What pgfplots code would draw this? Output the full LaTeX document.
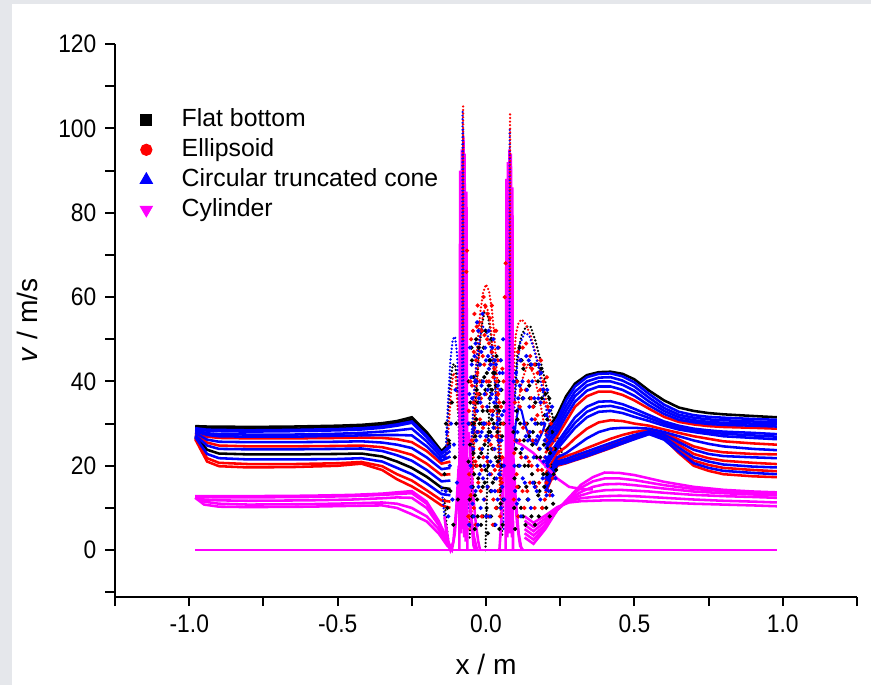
\documentclass[border=0pt]{standalone}
\usepackage{pgfplots}
\pgfplotsset{compat=1.18}
\usepackage{pgfplotstable}
\usepackage{fontspec}
\setmainfont{Liberation Sans}
\newfontfamily\tickfont[FakeStretch=0.9]{Liberation Sans}
\definecolor{framegray}{RGB}{229,231,235}
\definecolor{mag}{RGB}{255,0,255}
\definecolor{rd}{RGB}{255,0,0}
\definecolor{bu}{RGB}{0,0,255}

% left smooth region (x<-0.12): Flat bottom / Ellipsoid / Cone curves
\pgfplotstableread{
x L1 L2 L3 L4 L5 L6 L7 L8 L9 L10 L11 L12 C1 C2
-0.98 29.4 29.0 28.8 28.5 28.0 27.8 27.5 27.2 27.0 26.8 26.6 26.3 28.9 28.2
-0.94 29.3 28.8 28.3 27.7 26.9 26.2 25.5 24.8 23.8 22.8 21.8 21.0 28.55 27.3
-0.90 29.3 28.8 28.2 27.5 26.6 25.7 24.8 24.0 22.9 21.8 20.7 19.9 28.5 27.0
-0.80 29.2 28.7 28.1 27.4 26.5 25.6 24.6 23.9 22.7 21.5 20.4 19.6 28.4 26.9
-0.65 29.3 28.8 28.2 27.4 26.5 25.6 24.6 23.9 22.7 21.5 20.4 19.7 28.5 26.9
-0.50 29.5 29.0 28.4 27.6 26.6 25.7 24.7 24.0 22.8 21.6 20.6 20.0 28.7 27.1
-0.42 29.7 29.2 28.6 27.8 26.7 25.8 24.8 24.1 22.9 21.8 20.9 20.5 28.9 27.2
-0.35 30.1 29.6 29.0 28.1 26.6 25.5 24.4 23.5 22.2 21.0 19.9 19.0 29.3 27.3
-0.30 30.6 30.1 29.5 28.4 26.3 25.0 23.6 22.5 21.0 19.5 18.0 16.8 29.8 27.3
-0.25 31.5 30.9 30.2 28.8 25.6 24.2 22.6 21.2 19.5 18.0 16.5 15.1 30.5 27.2
-0.20 28.0 27.5 26.8 25.8 23.5 22.0 20.5 19.0 17.4 15.8 14.2 13.0 27.1 24.6
-0.15 23.5 23.2 22.8 22.0 20.5 19.2 17.8 16.3 14.8 13.3 11.8 10.6 23.0 21.2
-0.12 25.5 25.0 24.5 23.5 21.0 19.5 18.0 16.5 14.5 13.0 11.5 10.0 24.8 22.2
}\lefttab

% right smooth region (x>0.2)
\pgfplotstableread{
x R1 R2 R3 R4 R5 R6 R7 R8 R9 R10 R11 R12 R13 R14 R15 B1 B2 B3
0.20 28.0 27.0 25.0 23.0 21.0 19.5 18.0 17.0 16.5 16.0 15.5 15.0 14.5 14.0 13.5 26.0 24.0 20.2
0.24 32.0 31.0 29.0 27.0 25.5 24.0 23.0 22.0 21.5 21.0 20.8 20.6 20.4 20.3 20.0 30.0 28.0 24.8
0.27 36.5 35.5 33.0 30.5 28.5 26.5 24.5 23.0 22.3 21.6 21.2 21.0 20.8 20.7 20.6 34.2 31.8 27.5
0.30 39.5 38.8 36.5 34.0 31.5 29.0 26.5 24.5 23.0 22.4 22.0 21.7 21.5 21.4 21.3 37.6 35.2 30.2
0.34 41.5 41.0 39.0 36.5 34.0 31.5 28.8 26.5 24.2 23.4 23.0 22.7 22.5 22.3 22.2 40.0 37.8 32.8
0.38 42.2 41.8 40.0 37.6 35.2 32.8 30.3 28.0 25.3 24.4 24.0 23.7 23.5 23.3 23.2 40.9 38.8 34.0
0.42 42.3 41.9 40.0 37.6 35.3 33.0 30.8 28.8 26.4 25.4 25.0 24.7 24.5 24.3 24.2 41.0 38.8 34.2
0.46 41.8 41.2 39.2 36.8 34.6 32.5 30.6 29.0 27.3 26.4 26.0 25.7 25.5 25.3 25.3 40.2 38.0 33.6
0.50 40.5 39.8 37.8 35.5 33.5 31.6 30.0 29.0 28.0 27.3 27.0 26.7 26.5 26.3 26.4 38.8 36.6 32.6
0.55 37.8 37.0 35.2 33.5 32.0 30.6 29.5 28.8 28.5 28.2 28.0 27.8 27.6 27.5 27.8 36.1 34.3 31.3
0.60 35.5 34.5 33.0 31.6 30.5 29.5 28.6 28.0 27.8 27.4 27.2 26.8 26.5 26.2 26.5 33.7 32.3 30.0
0.65 33.8 32.8 31.5 30.4 29.5 28.6 27.8 27.0 26.2 25.6 25.0 24.3 23.8 23.3 23.0 32.1 30.9 29.0
0.70 33.0 32.0 30.8 29.8 28.8 28.0 27.0 26.0 24.6 23.8 22.8 22.0 21.2 20.6 20.0 31.4 30.3 28.4
0.75 32.5 31.6 30.4 29.4 28.4 27.5 26.4 25.2 23.7 22.8 21.8 21.0 20.2 19.5 18.8 31.0 29.9 27.9
0.80 32.2 31.4 30.2 29.2 28.1 27.0 25.8 24.6 23.2 22.3 21.2 20.3 19.5 18.8 18.0 30.8 29.7 27.6
0.90 31.8 31.1 30.0 29.0 27.8 26.6 25.3 24.0 22.8 22.0 20.7 19.8 19.0 18.3 17.5 30.5 29.5 27.2
0.98 31.5 30.9 29.8 28.8 27.5 26.3 25.0 23.7 22.7 21.8 20.4 19.6 18.7 18.0 17.3 30.3 29.3 26.9
}\righttab

% Cylinder, left
\pgfplotstableread{
x M1 M2 M3 M4 M5
-0.98 12.8 12.7 12.6 12.5 12.4
-0.95 12.8 12.6 12.0 11.5 10.8
-0.90 12.8 12.5 11.8 11.0 10.3
-0.80 12.8 12.5 11.7 10.8 10.2
-0.60 12.9 12.6 11.8 10.9 10.3
-0.45 13.1 12.8 12.0 11.1 10.5
-0.35 13.4 13.1 12.3 11.3 10.6
-0.30 13.7 13.3 12.5 11.0 10.0
-0.25 14.0 13.5 12.4 10.0 8.5
-0.20 11.5 11.0 10.0 8.0 6.8
-0.16 7.0 6.5 6.0 5.0 4.0
-0.13 2.5 2.0 1.8 1.5 1.0
-0.115 0 0 0 0 0
}\mleft

% Cylinder, right
\pgfplotstableread{
x N1 N2 N3 N4 N5 N6
0.13 3.0 4.0 5.0 6.0 7.0 8.0
0.16 1.5 2.5 3.5 4.5 5.5 6.5
0.20 5.0 5.5 6.0 6.8 7.5 8.2
0.24 9.5 9.5 9.5 9.8 10.0 10.2
0.28 12.5 12.3 12.0 11.8 11.6 11.3
0.32 15.5 14.8 13.8 13.0 12.3 11.6
0.36 17.3 16.3 15.0 13.8 12.6 11.7
0.40 18.4 17.0 15.6 14.2 12.8 11.8
0.45 18.3 17.0 15.7 14.3 12.9 11.8
0.50 17.8 16.6 15.4 14.1 12.8 11.7
0.55 17.0 16.0 15.0 13.9 12.6 11.5
0.60 16.2 15.4 14.6 13.6 12.4 11.3
0.70 15.0 14.5 13.9 13.1 12.0 11.0
0.80 14.3 14.0 13.5 12.8 11.7 10.8
0.90 13.9 13.6 13.2 12.6 11.5 10.6
0.98 13.7 13.4 13.0 12.4 11.3 10.4
}\mright

\pgfplotsset{
  bk/.style={black, line width=1.0pt, forget plot},
  rdl/.style={rd, line width=1.0pt, forget plot},
  bl/.style={bu, line width=1.0pt, forget plot},
  mg/.style={mag, line width=1.0pt, forget plot},
  dots/.style={line width=1.0pt, line cap=round, dash pattern=on 0pt off 1.4pt, forget plot},
  sc/.style={only marks, mark=*, mark size=0.6pt, forget plot},
}

\begin{document}
\begin{tikzpicture}
\fill[framegray] (-45pt,-34.4pt) rectangle (295.5pt,233.2pt);
\fill[white] (-40.3pt,-34.4pt) rectangle (295.5pt,231.6pt);
\begin{axis}[
  scale only axis, width=290pt, height=216pt,
  at={(0,0)}, anchor=south west,
  xmin=-1.25, xmax=1.25, ymin=-11, ymax=120,
  axis lines*=left,
  axis line style={line width=0.8pt},
  xtick={-1,-0.5,0,0.5,1},
  xticklabels={-1.0,-0.5,0.0,0.5,1.0},
  minor xtick={-1.25,-0.75,-0.25,0.25,0.75,1.25},
  ytick={0,20,40,60,80,100,120},
  yticklabels={0,20,40,60,80,100,120},
  minor ytick={-10,10,30,50,70,90,110},
  tick align=outside,
  major tick length=3.8pt, minor tick length=3.8pt,
  every tick/.style={line width=0.8pt, black},
  tick label style={font=\tickfont\fontsize{9.9}{11}\selectfont},
  xlabel={x / m},
  ylabel={\textit{v} / m/s},
  label style={font=\fontsize{11}{13}\selectfont},
  xlabel style={at={(axis description cs:0.5,-0.123)}, anchor=center},
  ylabel style={at={(axis description cs:-0.118,0.5)}, anchor=center, rotate=0},
  legend cell align=left,
  legend style={at={(axis description cs:0.023,0.902)}, anchor=north west,
    draw=none, fill=none, font=\fontsize{9.7}{11}\selectfont, row sep=-0.8pt,
    /tikz/every odd column/.append style={column sep=9.5pt}},
]
\addlegendimage{only marks, mark=square*, mark size=2.1pt, black}
\addlegendentry{Flat bottom}
\addlegendimage{only marks, mark=*, mark size=2.2pt, rd}
\addlegendentry{Ellipsoid}
\addlegendimage{only marks, mark=triangle*, mark size=2.7pt, bu}
\addlegendentry{Circular truncated cone}
\addlegendimage{only marks, mark=triangle*, mark size=2.7pt, mag, mark options={rotate=180}}
\addlegendentry{Cylinder}

% ---------- Flat bottom (black) ----------
\addplot[bk] table[x=x,y=L1] {\lefttab};
\addplot[bk] table[x=x,y=L2] {\lefttab};
\addplot[bk] table[x=x,y=L9] {\lefttab};
\addplot[bk] table[x=x,y=R1] {\righttab};
\addplot[black,dots] coordinates {(-0.135,23)(-0.128,32)(-0.12,40)(-0.112,44)(-0.104,44)(-0.097,40)(-0.092,30)(-0.088,18)};
\addplot[black,dots] coordinates {(-0.14,12)(-0.133,6)(-0.127,2)(-0.122,0)};
\addplot[black,dots] coordinates {(-0.055,3)(-0.045,22)(-0.035,36)(-0.025,46)(-0.015,53)(-0.005,56.5)(0.005,56)(0.015,52)(0.025,45)(0.035,35)(0.045,20)(0.055,3)};
\addplot[black,dots] coordinates {(-0.002,0)(0.002,10)(0.006,22)(0.01,32)(0.016,40)};
\addplot[black,dots] coordinates {(0.095,35)(0.105,46)(0.12,51)(0.135,53)(0.15,53)(0.165,50)(0.18,46)(0.2,40)(0.22,33)(0.24,27)(0.26,22)};
\addplot[black,sc] coordinates {(-0.055,12)(-0.05,30)(-0.046,8)(-0.043,41)(-0.04,18)(-0.036,27)(-0.033,50)(-0.03,12)(-0.027,35)(-0.024,22)(-0.02,44)(-0.017,6)(-0.014,30)(-0.011,15)(-0.008,48)(-0.005,25)(-0.002,38)(0.002,10)(0.005,33)(0.008,20)(0.011,45)(0.014,28)(0.017,8)(0.02,38)(0.023,16)(0.026,30)(0.03,42)(0.033,22)(0.036,10)(0.04,34)(0.043,26)(0.047,14)(0.05,30)(0.054,20)(0.058,12)};
\addplot[black,sc] coordinates {(-0.058,40)(-0.054,25)(-0.049,48)(-0.045,15)(-0.041,30)(-0.038,5)(-0.034,20)(-0.031,38)(-0.028,8)(-0.025,48)(-0.022,30)(-0.019,20)(-0.016,40)(-0.013,52)(-0.01,8)(-0.007,30)(-0.004,16)(-0.001,52)(0.003,42)(0.006,4)(0.009,28)(0.012,36)(0.015,14)(0.018,50)(0.021,24)(0.024,42)(0.028,6)(0.031,34)(0.035,46)(0.038,28)(0.042,40)(0.045,5)(0.048,22)(0.052,38)(0.056,6)(0.06,30)};
\addplot[black,sc] coordinates {(-0.059,21)(-0.053,35)(-0.047,45)(-0.042,23)(-0.037,13)(-0.032,31)(-0.026,17)(-0.021,37)(-0.016,23)(-0.011,33)(-0.006,41)(-0.001,19)(0.004,27)(0.009,39)(0.014,45)(0.019,31)(0.024,33)(0.029,17)(0.034,39)(0.039,21)(0.044,33)(0.049,11)(0.054,27)(0.059,35)};
\addplot[black,sc] coordinates {(0.095,10)(0.1,24)(0.105,40)(0.11,15)(0.115,30)(0.12,45)(0.125,8)(0.13,20)(0.135,38)(0.14,12)(0.145,27)(0.15,44)(0.155,18)(0.16,34)(0.165,6)(0.17,22)(0.175,40)(0.18,14)(0.185,30)(0.19,10)(0.195,25)(0.2,37)(0.205,18)(0.21,28)(0.215,8)(0.22,20)};
\addplot[black,sc] coordinates {(0.092,28)(0.098,5)(0.103,33)(0.108,20)(0.113,48)(0.118,10)(0.123,36)(0.128,26)(0.133,6)(0.138,30)(0.143,20)(0.148,36)(0.153,8)(0.158,28)(0.163,16)(0.168,44)(0.173,30)(0.178,8)(0.183,22)(0.188,36)(0.193,18)(0.198,32)(0.203,10)(0.208,24)(0.213,36)(0.218,14)(0.223,28)(0.228,18)(0.233,24)};
\addplot[black,sc] coordinates {(0.096,17)(0.106,31)(0.116,23)(0.126,43)(0.136,15)(0.146,39)(0.156,25)(0.166,35)(0.176,13)(0.186,43)(0.196,15)(0.206,31)(0.216,23)(0.226,11)(0.236,19)};
\addplot[black,sc] coordinates {(-0.14,18)(-0.135,30)(-0.13,10)(-0.125,26)(-0.12,14)(-0.115,35)(-0.11,6)(-0.105,22)(-0.1,30)(-0.095,12)};

% ---------- Ellipsoid (red) ----------
\addplot[rdl] table[x=x,y=L5] {\lefttab};
\addplot[rdl] table[x=x,y=L7] {\lefttab};
\addplot[rdl] table[x=x,y=L11] {\lefttab};
\addplot[rdl] table[x=x,y=L12] {\lefttab};
\addplot[rdl] table[x=x,y=R4] {\righttab};
\addplot[rdl] table[x=x,y=R7] {\righttab};
\addplot[rdl] table[x=x,y=R9] {\righttab};
\addplot[rdl] table[x=x,y=R11] {\righttab};
\addplot[rdl] table[x=x,y=R13] {\righttab};
\addplot[rdl] table[x=x,y=R15] {\righttab};
\addplot[rd,dots] coordinates {(-0.133,22)(-0.125,30)(-0.117,38)(-0.11,42)(-0.102,41)(-0.095,33)};
\addplot[rd,dots] coordinates {(-0.058,5)(-0.05,20)(-0.04,36)(-0.03,48)(-0.02,56)(-0.01,61)(0,63)(0.01,61.5)(0.02,57)(0.03,49)(0.04,38)(0.05,24)(0.058,8)};
\addplot[rd,dots] coordinates {(-0.05,5)(-0.04,25)(-0.03,40)(-0.02,50)(-0.01,56)(0,58)(0.01,56)(0.02,50)(0.03,40)(0.04,27)(0.05,8)};
\addplot[rd,dots] coordinates {(0.09,30)(0.095,45)(0.1,51)(0.11,54)(0.12,54.7)(0.13,54)(0.15,51)(0.17,46)(0.19,40)(0.21,33)(0.23,27)(0.25,22)};
\addplot[rd,dots] coordinates {(0.1,30)(0.12,40)(0.14,44)(0.16,42)(0.18,36)(0.2,28)(0.22,22)};
\addplot[rd,sc] coordinates {(-0.057,18)(-0.052,40)(-0.048,26)(-0.044,52)(-0.041,10)(-0.037,33)(-0.034,45)(-0.031,20)(-0.028,58)(-0.025,28)(-0.021,40)(-0.018,14)(-0.015,52)(-0.012,34)(-0.009,22)(-0.006,44)(-0.003,58)(0.001,30)(0.004,50)(0.007,15)(0.01,40)(0.013,55)(0.016,25)(0.019,47)(0.022,33)(0.025,12)(0.028,43)(0.031,29)(0.034,52)(0.038,20)(0.041,37)(0.045,26)(0.049,45)(0.053,16)(0.057,30)(-0.066,66)(-0.064,71)(0.066,68)(0.063,60)};
\addplot[rd,sc] coordinates {(-0.06,8)(-0.055,30)(-0.05,50)(-0.046,20)(-0.042,35)(-0.039,56)(-0.035,6)(-0.032,28)(-0.029,42)(-0.026,16)(-0.023,54)(-0.02,24)(-0.017,36)(-0.014,8)(-0.011,46)(-0.008,60)(-0.005,12)(-0.002,26)(0.002,40)(0.005,56)(0.008,8)(0.011,30)(0.014,44)(0.017,18)(0.02,58)(0.023,6)(0.027,24)(0.03,52)(0.033,10)(0.036,40)(0.04,14)(0.043,48)(0.047,8)(0.051,34)(0.055,22)(0.059,40)};
\addplot[rd,sc] coordinates {(-0.058,33)(-0.052,13)(-0.047,39)(-0.041,47)(-0.036,21)(-0.031,53)(-0.026,37)(-0.02,31)(-0.015,19)(-0.01,29)(-0.005,51)(0,37)(0.005,21)(0.01,49)(0.015,33)(0.02,27)(0.025,41)(0.03,19)(0.035,27)(0.04,45)(0.045,35)(0.05,17)(0.055,43)};
\addplot[rd,sc] coordinates {(0.097,35)(0.103,18)(0.108,47)(0.113,26)(0.118,38)(0.123,14)(0.128,44)(0.133,30)(0.138,22)(0.143,40)(0.148,16)(0.153,36)(0.158,26)(0.163,44)(0.168,15)(0.173,32)(0.178,24)(0.183,38)(0.188,19)(0.193,30)(0.198,12)(0.203,26)(0.208,34)};
\addplot[rd,sc] coordinates {(0.094,12)(0.099,26)(0.104,40)(0.109,8)(0.114,34)(0.119,22)(0.124,48)(0.129,10)(0.134,38)(0.139,14)(0.144,28)(0.149,46)(0.154,20)(0.159,34)(0.164,10)(0.169,26)(0.174,42)(0.179,16)(0.184,28)(0.189,10)(0.194,40)(0.199,22)(0.204,16)(0.209,28)(0.214,20)(0.219,30)(0.225,24)};
\addplot[rd,sc] coordinates {(0.095,23)(0.105,15)(0.115,45)(0.125,29)(0.135,49)(0.145,21)(0.155,43)(0.165,31)(0.175,19)(0.185,45)(0.195,35)(0.205,41)(0.215,13)(0.225,17)};

% ---------- Circular truncated cone (blue) ----------
\addplot[bl] table[x=x,y=L3] {\lefttab};
\addplot[bl] table[x=x,y=C1] {\lefttab};
\addplot[bl] table[x=x,y=L4] {\lefttab};
\addplot[bl] table[x=x,y=C2] {\lefttab};
\addplot[bl] table[x=x,y=L6] {\lefttab};
\addplot[bl] table[x=x,y=L8] {\lefttab};
\addplot[bl] table[x=x,y=L10] {\lefttab};
\addplot[bl] table[x=x,y=R2] {\righttab};
\addplot[bl] table[x=x,y=B1] {\righttab};
\addplot[bl] table[x=x,y=R3] {\righttab};
\addplot[bl] table[x=x,y=B2] {\righttab};
\addplot[bl] table[x=x,y=R5] {\righttab};
\addplot[bl] table[x=x,y=B3] {\righttab};
\addplot[bl] table[x=x,y=R6] {\righttab};
\addplot[bl] table[x=x,y=R8] {\righttab};
\addplot[bl] table[x=x,y=R10] {\righttab};
\addplot[bl] table[x=x,y=R12] {\righttab};
\addplot[bl] table[x=x,y=R14] {\righttab};
\addplot[bu,dots] coordinates {(-0.135,24)(-0.128,35)(-0.12,45)(-0.112,50)(-0.104,50.6)(-0.097,46)(-0.092,35)(-0.088,20)};
\addplot[bu,dots] coordinates {(-0.15,15)(-0.14,8)(-0.13,2)(-0.12,0)};
\addplot[bu,dots] coordinates {(-0.06,10)(-0.05,25)(-0.04,38)(-0.03,46)(-0.02,51)(-0.01,53)(0,52)(0.01,50)(0.02,46)(0.03,40)(0.04,30)(0.05,18)(0.06,5)};
\addplot[bu,dots] coordinates {(0.095,33)(0.105,44)(0.115,49)(0.13,51.5)(0.145,51)(0.16,48)(0.175,44)(0.19,38)(0.21,31)(0.23,25)};
\addplot[bu,line width=0.8pt,forget plot] coordinates {(0.09,22)(0.1,30)(0.11,34)(0.12,33)(0.13,30)(0.15,26)(0.17,25)(0.19,28)(0.2,30)};
\addplot[bu,sc] coordinates {(-0.059,30)(-0.054,48)(-0.05,15)(-0.047,36)(-0.043,24)(-0.039,46)(-0.035,14)(-0.032,40)(-0.029,28)(-0.026,52)(-0.022,18)(-0.019,35)(-0.016,47)(-0.013,24)(-0.01,40)(-0.007,12)(-0.004,30)(0,45)(0.003,22)(0.006,38)(0.009,52)(0.012,18)(0.015,36)(0.018,27)(0.021,48)(0.024,20)(0.027,35)(0.03,14)(0.033,44)(0.037,30)(0.04,48)(0.044,18)(0.048,38)(0.052,26)(0.056,42)(0.06,20)};
\addplot[bu,sc] coordinates {(-0.057,6)(-0.052,20)(-0.048,44)(-0.045,28)(-0.041,8)(-0.037,40)(-0.033,26)(-0.03,54)(-0.027,6)(-0.024,36)(-0.021,44)(-0.018,10)(-0.015,28)(-0.012,56)(-0.009,30)(-0.006,20)(-0.003,48)(0.001,8)(0.004,34)(0.007,46)(0.01,26)(0.013,8)(0.016,44)(0.019,14)(0.022,32)(0.025,50)(0.029,24)(0.032,6)(0.035,36)(0.039,12)(0.042,26)(0.046,42)(0.05,10)(0.054,32)(0.058,50)(0.061,12)};
\addplot[bu,sc] coordinates {(-0.056,37)(-0.05,41)(-0.045,11)(-0.04,29)(-0.035,49)(-0.03,33)(-0.025,15)(-0.02,27)(-0.015,39)(-0.01,17)(-0.005,37)(0,27)(0.005,15)(0.01,43)(0.015,21)(0.02,37)(0.025,29)(0.03,45)(0.035,17)(0.04,39)(0.045,31)(0.05,45)(0.055,15)(0.06,33)};
\addplot[bu,sc] coordinates {(0.096,20)(0.101,42)(0.106,28)(0.111,12)(0.116,45)(0.121,24)(0.126,36)(0.131,16)(0.136,46)(0.141,26)(0.146,34)(0.151,10)(0.156,40)(0.161,22)(0.166,30)(0.171,14)(0.176,36)(0.181,24)(0.186,42)(0.191,17)(0.196,30)(0.201,22)(0.206,38)(0.211,14)};
\addplot[bu,sc] coordinates {(0.093,40)(0.098,14)(0.103,26)(0.108,36)(0.113,20)(0.118,8)(0.123,40)(0.128,30)(0.133,22)(0.138,38)(0.143,12)(0.148,28)(0.153,44)(0.158,16)(0.163,36)(0.168,26)(0.173,20)(0.178,44)(0.183,12)(0.188,30)(0.193,38)(0.198,26)(0.203,32)(0.208,20)(0.213,28)(0.218,24)(0.223,34)(0.228,20)};
\addplot[bu,sc] coordinates {(0.094,29)(0.104,11)(0.114,39)(0.124,17)(0.134,27)(0.144,45)(0.154,31)(0.164,15)(0.174,27)(0.184,35)(0.194,21)(0.204,13)(0.214,33)(0.224,13)(0.234,17)};
\addplot[bu,sc] coordinates {(-0.14,22)(-0.136,14)(-0.132,28)(-0.127,8)(-0.122,20)(-0.118,30)(-0.113,12)(-0.108,25)(-0.103,38)(-0.098,16)};

% ---------- Cylinder (magenta) ----------
\addplot[mag, line width=1.0pt, forget plot] coordinates {(-0.98,0)(0.98,0)};
\addplot[mg] table[x=x,y=M1] {\mleft};
\addplot[mg] table[x=x,y=M2] {\mleft};
\addplot[mg] table[x=x,y=M3] {\mleft};
\addplot[mg] table[x=x,y=M4] {\mleft};
\addplot[mg] table[x=x,y=M5] {\mleft};
\addplot[mg] table[x=x,y=N1] {\mright};
\addplot[mg] table[x=x,y=N2] {\mright};
\addplot[mg] table[x=x,y=N3] {\mright};
\addplot[mg] table[x=x,y=N4] {\mright};
\addplot[mg] table[x=x,y=N5] {\mright};
\addplot[mg] table[x=x,y=N6] {\mright};
\addplot[mg] coordinates {(0.09,26)(0.12,25)(0.16,23)(0.2,20)(0.24,17)(0.28,15)(0.32,14.5)(0.36,14.4)};
\addplot[mg] coordinates {(-0.14,8)(-0.13,2)(-0.12,0)(-0.11,2)(-0.1,10)(-0.092,20)};
\addplot[mg] coordinates {(-0.135,6)(-0.125,1)(-0.115,0)(-0.105,4)(-0.095,14)};
\addplot[mg] coordinates {(-0.062,22)(-0.055,14)(-0.048,6)(-0.042,1)(-0.036,0)};
\addplot[mg] coordinates {(-0.06,15)(-0.05,8)(-0.04,3)(-0.03,0)};
\addplot[mg] coordinates {(-0.058,28)(-0.05,20)(-0.042,12)(-0.034,6)(-0.026,2)(-0.02,0)};
\addplot[mg] coordinates {(0.062,22)(0.055,12)(0.05,5)(0.045,0)};
\addplot[mg] coordinates {(0.09,25)(0.1,12)(0.11,4)(0.12,0)};
\addplot[mg] coordinates {(0.092,18)(0.105,6)(0.115,1)(0.125,0)};
% spikes
\addplot[mag, line width=1.0pt, forget plot] coordinates {(-0.09,0)(-0.087,90)(-0.084,4)(-0.081,95)(-0.078,5)(-0.076,98)(-0.074,3)(-0.072,94)(-0.069,2)(-0.066,85)(-0.063,0)};
\addplot[mag, line width=1.0pt, forget plot] coordinates {(0.066,0)(0.069,88)(0.072,3)(0.074,92)(0.076,4)(0.079,95)(0.082,4)(0.084,94)(0.087,3)(0.089,86)(0.091,0)};
\addplot[bu,dots] coordinates {(-0.081,30)(-0.079,104)};
\addplot[bu,dots] coordinates {(-0.076,25)(-0.077,100)};
\addplot[rd,dots] coordinates {(-0.078,50)(-0.077,106)};
\addplot[bu,dots] coordinates {(0.079,30)(0.08,100)};
\addplot[rd,dots] coordinates {(0.081,60)(0.081,103.7)};
\end{axis}
\end{tikzpicture}
\end{document}
